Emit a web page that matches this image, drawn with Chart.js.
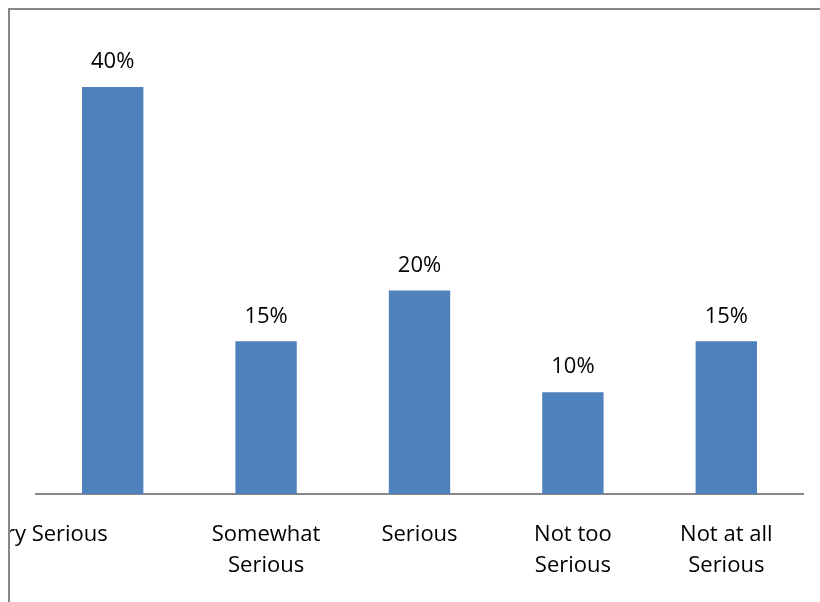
<!DOCTYPE html>
<html>
<head>
<meta charset="utf-8">
<script src="https://cdn.jsdelivr.net/npm/chart.js@4.4.1/dist/chart.umd.min.js"></script>
<style>
  html, body { margin: 0; padding: 0; background: #fff; }
  #wrap { position: relative; width: 820px; height: 602px; overflow: hidden; background: #fff; }
  #seriousChart { position: absolute; left: -100px; top: 0; }
  /* the frame clips the first label, as in the original */
  #mask { position: absolute; left: 0; top: 0; width: 8px; height: 602px; background: #fff; }
  #frame { position: absolute; left: 8px; top: 8px; width: 830px; height: 610px; border-left: 2px solid #878787; border-top: 2px solid #878787; }
</style>
</head>
<body>
<div id="wrap">
  <canvas id="seriousChart" width="920" height="602"></canvas>
  <div id="mask"></div>
  <div id="frame"></div>
</div>
<script>
// Chart data
const categories = [
  ["Very Serious"],
  ["Somewhat", "Serious"],
  ["Serious"],
  ["Not too", "Serious"],
  ["Not at all", "Serious"],
];
const shares = [40, 15, 20, 10, 15];
const yMin = 0;
const yMax = 45;

const fontFamily = '"Open Sans", "Liberation Sans", sans-serif';

// draw the % value above each bar
const barLabels = {
  id: "barLabels",
  afterDatasetsDraw(chart) {
    const ctx = chart.ctx;
    const meta = chart.getDatasetMeta(0);
    ctx.save();
    ctx.font = "22px " + fontFamily;
    ctx.fillStyle = "#000";
    ctx.textAlign = "center";
    ctx.textBaseline = "middle";
    meta.data.forEach((bar, i) => {
      ctx.fillText(shares[i] + "%", bar.x, bar.y - 25);
    });
    ctx.restore();
  },
};

const ctx = document.getElementById("seriousChart");
new Chart(ctx, {
  type: "bar",
  data: {
    labels: categories,
    datasets: [
      {
        label: "Share",
        data: shares,
        backgroundColor: "#4F81BD",
        borderWidth: 0,
        categoryPercentage: 1,
        barPercentage: 0.4,
      },
    ],
  },
  options: {
    responsive: false,
    animation: false,
    devicePixelRatio: 1,
    layout: {
      padding: { left: 136, right: 17, top: 36, bottom: 0 },
    },
    scales: {
      x: {
        grid: { display: false },
        border: { display: true, color: "#878787", width: 2 },
        afterFit: (scale) => {
          scale.height = 108;
        },
        ticks: {
          color: "#000",
          maxRotation: 0,
          autoSkip: false,
          padding: 17,
          font: { family: fontFamily, size: 22, lineHeight: 1.41 },
          callback: function (value, index) {
            const label = categories[index];
            // first label sits further left and gets cut by the frame
            if (index === 0) return label[0] + " ".repeat(24);
            return label;
          },
        },
      },
      y: {
        display: false,
        min: yMin,
        max: yMax,
      },
    },
    plugins: {
      legend: { display: false },
      tooltip: { enabled: false },
    },
  },
  plugins: [barLabels],
});
</script>
</body>
</html>
